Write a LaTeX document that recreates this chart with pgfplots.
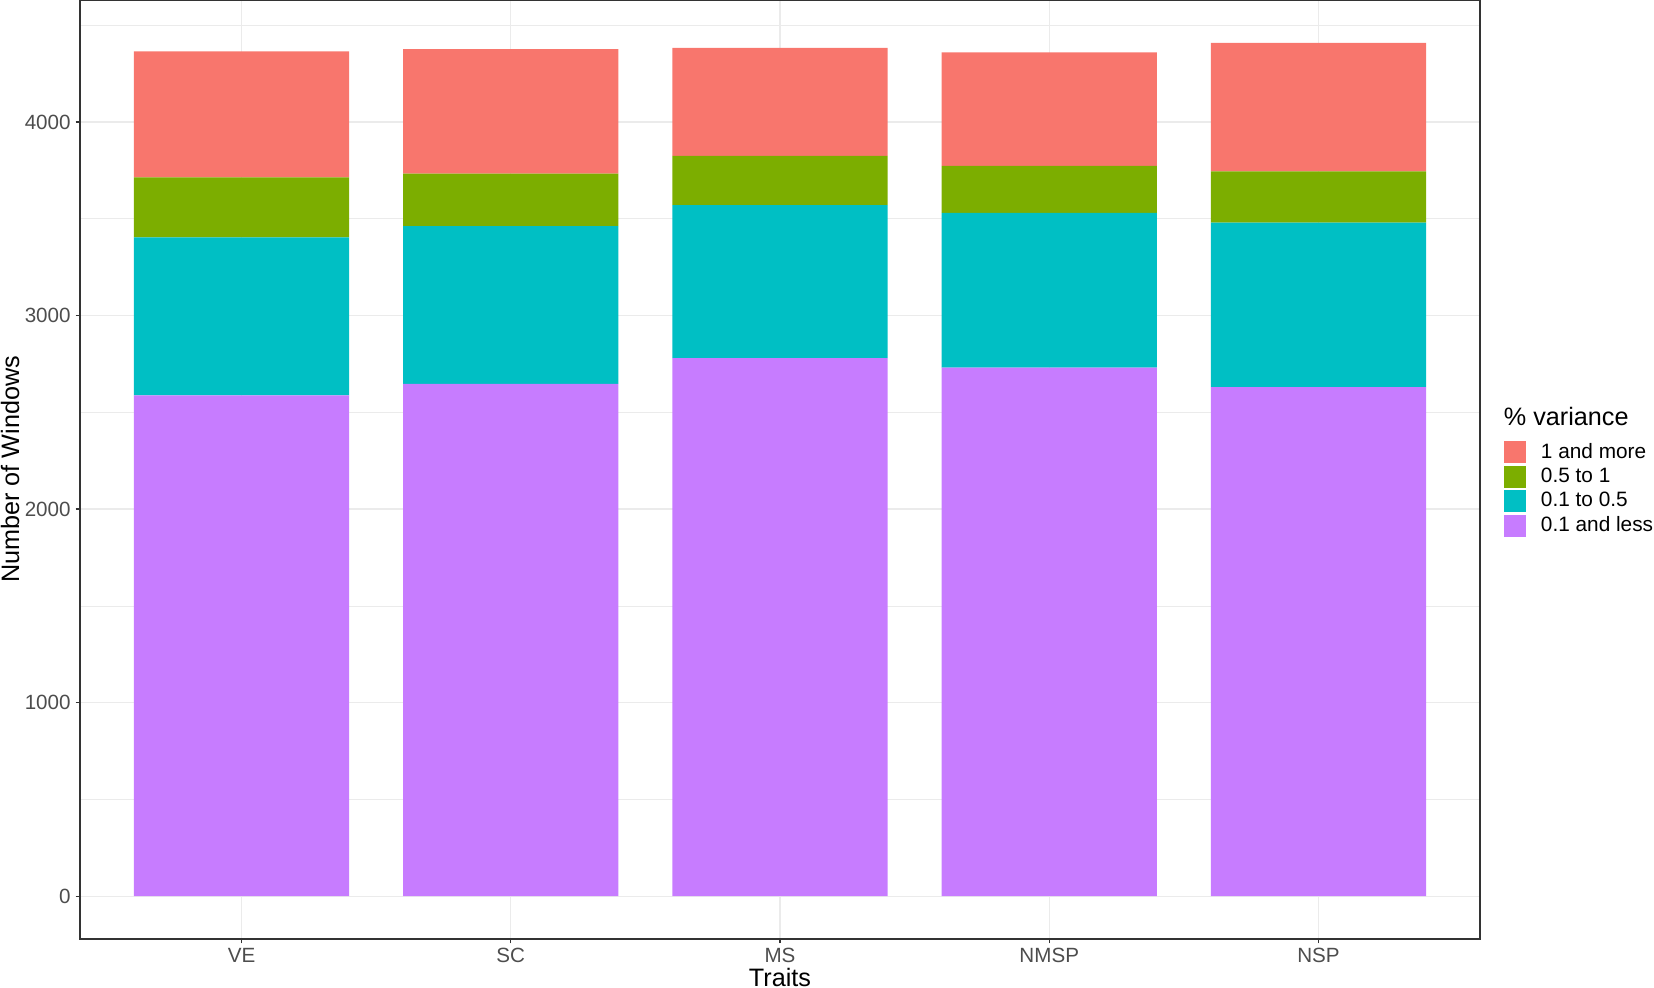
\documentclass[border=0pt]{standalone}
\usepackage{fontspec}
\setmainfont{Liberation Sans}
\usepackage{pgfplots}
\pgfplotsset{compat=1.18}
\definecolor{cRed}{HTML}{F8766D}
\definecolor{cGreen}{HTML}{7CAE00}
\definecolor{cCyan}{HTML}{00BFC4}
\definecolor{cPurple}{HTML}{C77CFF}
\definecolor{gridc}{HTML}{EBEBEB}
\definecolor{gray20}{HTML}{333333}
\definecolor{gray30}{HTML}{4D4D4D}
\pgfplotsset{sqlegend/.style={legend image code/.code={\fill[##1] (0pt,-5.5pt) rectangle (11pt,5.5pt);}}}
\begin{document}
\begin{tikzpicture}
\path[use as bounding box] (-40pt,-24.5pt) rectangle (787pt,469.5pt);
\begin{axis}[
  scale only axis, width=700pt, height=469.5pt,
  ybar stacked, bar width=0.8,
  xmin=0.4, xmax=5.6, ymin=-221, ymax=4630,
  xtick={1,2,3,4,5}, xticklabels={VE,SC,MS,NMSP,NSP},
  ytick={0,1000,2000,3000,4000}, minor ytick={500,1500,2500,3500,4500},
  xmajorgrids, ymajorgrids, yminorgrids,
  major grid style={gridc, line width=0.65pt},
  minor grid style={gridc, line width=0.35pt},
  axis line style={gray20, line width=0.7pt},
  tick align=outside, major tick length=2.2pt, minor tick length=0pt,
  tick style={gray20, line width=0.6pt},
  xtick pos=left, ytick pos=left,
  /pgf/number format/assume math mode=true, /pgf/number format/1000 sep={},
  ticklabel style={font=\fontsize{10.3}{11}\selectfont, text=gray30},
  yticklabel style={inner sep=0pt, xshift=-2.3pt},
  xticklabel style={inner sep=0pt, yshift=-2.2pt},
  xlabel={Traits}, ylabel={Number of Windows},
  label style={font=\fontsize{12.6}{13}\selectfont},
  xlabel style={at={(axis description cs:0.5,-0.0503)}, anchor=base, inner sep=0pt},
  ylabel style={at={(axis description cs:-0.04357,0.5)}, anchor=base, inner sep=0pt},
  reverse legend,
  legend cell align=left,
  legend style={at={(axis description cs:1.0171,0.5668)}, anchor=north west, draw=none, fill=none,
    inner sep=0pt, outer sep=0pt, row sep=1.2pt, column sep=7.5pt,
    font=\fontsize{10.4}{11}\selectfont, nodes={inner sep=0pt}},
]
\addplot[fill=cPurple, draw=none, sqlegend] coordinates {(1,2587) (2,2647) (3,2780) (4,2731) (5,2630)};
\addlegendentry{0.1 and less}
\addplot[fill=cCyan, draw=none, sqlegend] coordinates {(1,817) (2,815) (3,790) (4,799) (5,850)};
\addlegendentry{0.1 to 0.5}
\addplot[fill=cGreen, draw=none, sqlegend] coordinates {(1,310) (2,271) (3,255) (4,243) (5,265)};
\addlegendentry{0.5 to 1}
\addplot[fill=cRed, draw=none, sqlegend] coordinates {(1,650) (2,643) (3,558) (4,586) (5,664)};
\addlegendentry{1 and more}
\addlegendimage{empty legend}
\addlegendentry{\hspace*{-18.5pt}\raisebox{5.5pt}{\fontsize{12.6}{13}\selectfont\% variance}}
\end{axis}
\end{tikzpicture}
\end{document}
